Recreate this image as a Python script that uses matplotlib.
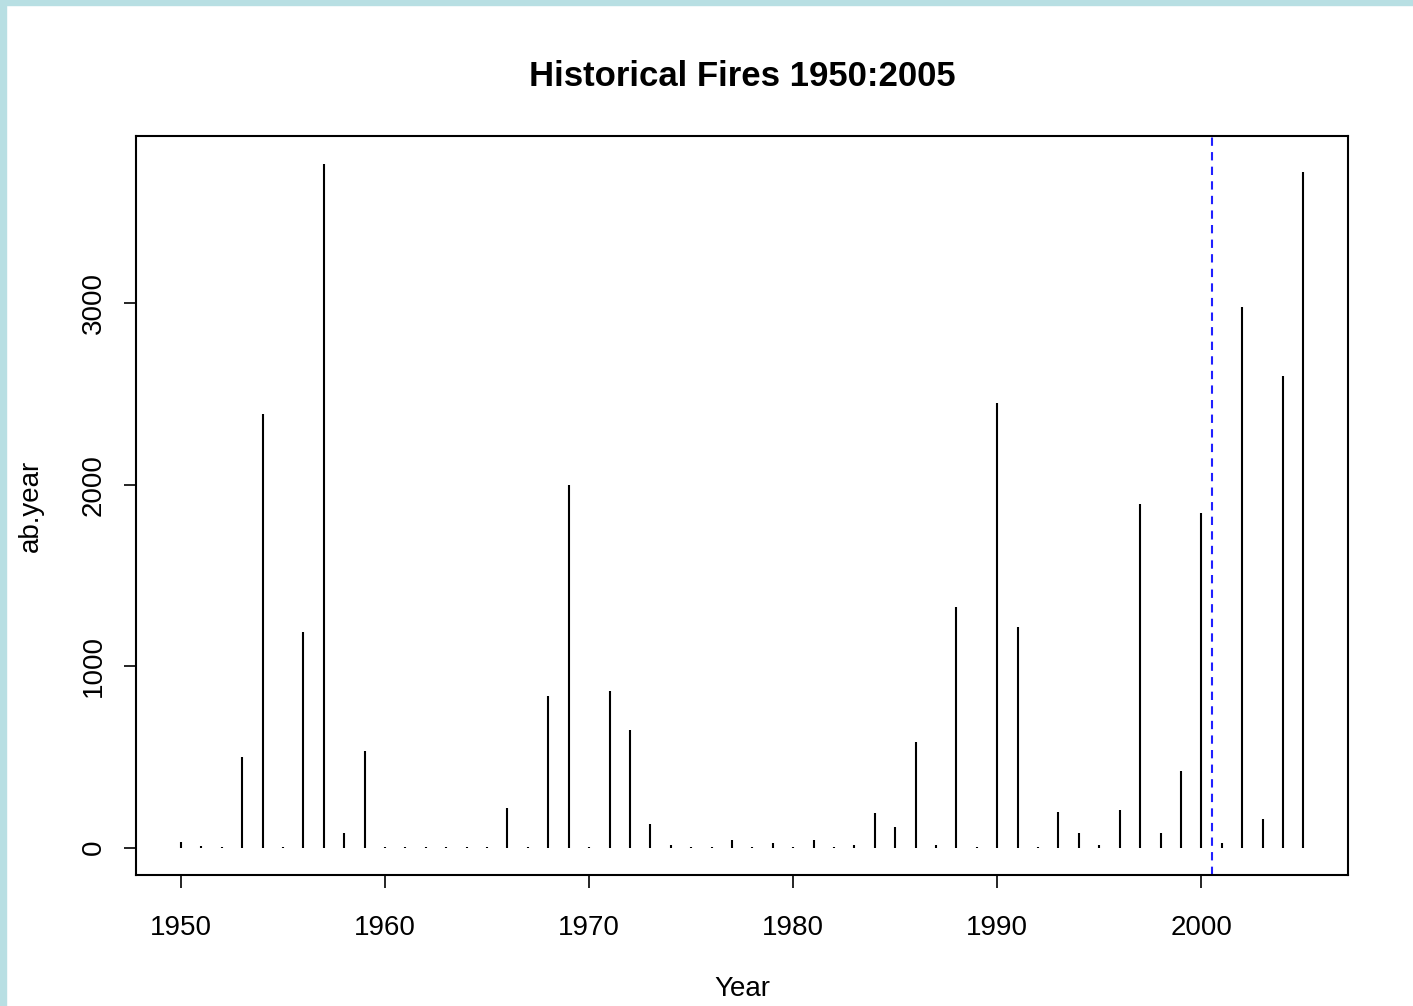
import numpy as np
import matplotlib.pyplot as plt
from matplotlib.patches import Rectangle

plt.rcParams['font.family'] = ['Liberation Sans', 'DejaVu Sans']

years = np.arange(1950, 2006)
ab_year = [30, 10, 5, 502, 2390, 5, 1190, 3770, 78, 535,
           5, 5, 5, 5, 5, 5, 220, 5, 838, 2000,
           5, 866, 651, 130, 17, 5, 5, 42, 5, 26,
           5, 42, 5, 15, 189, 112, 585, 15, 1324, 5,
           2449, 1219, 5, 199, 81, 15, 208, 1892, 81, 425,
           1842, 26, 2978, 160, 2598, 3723]
cutoff = 2000.5

fig = plt.figure(figsize=(14.13, 10.06), dpi=100)
ax = fig.add_axes([0.0963, 0.1302, 0.8579, 0.7346])

ax.vlines(years, 0, ab_year, colors='black', linewidth=1.5)
ax.axvline(cutoff, color='#2020ff', linestyle=(0, (4, 3)), linewidth=1.5)

ax.set_xlim(1947.8, 2007.2)
ax.set_ylim(-151, 3923)
ax.set_xticks([1950, 1960, 1970, 1980, 1990, 2000])
ax.set_yticks([0, 1000, 2000, 3000])
for lbl in ax.get_yticklabels():
    lbl.set_rotation(90)
    lbl.set_va('center')
ax.tick_params(direction='out', length=9, width=1.2, labelsize=20)
ax.tick_params(axis='x', pad=20)
ax.tick_params(axis='y', pad=12)
for s in ax.spines.values():
    s.set_linewidth(1.5)

ax.set_xlabel('Year', fontsize=20, labelpad=25)
ax.set_ylabel('ab.year', fontsize=20, labelpad=27)
ax.set_title('Historical Fires 1950:2005', fontsize=25, fontweight='bold', pad=36)

# light blue frame on left and top
fig.patches.append(Rectangle((0, 0), 6 / 1413, 1, transform=fig.transFigure,
                             color='#b8dfe3', zorder=10))
fig.patches.append(Rectangle((0, 1 - 5 / 1006), 1, 5 / 1006, transform=fig.transFigure,
                             color='#b8dfe3', zorder=10))

fig.savefig('out.png', dpi=100)
